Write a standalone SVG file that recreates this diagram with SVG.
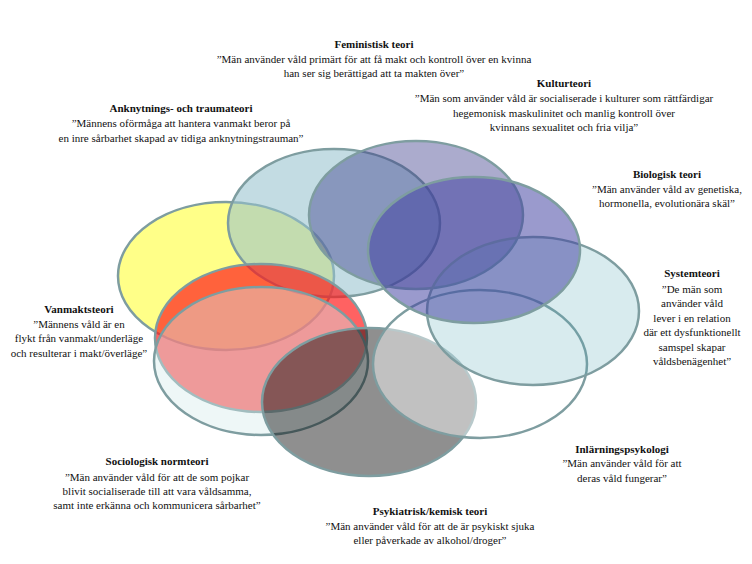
<svg xmlns="http://www.w3.org/2000/svg" width="752" height="564" viewBox="0 0 752 564">
<style>
  .e { stroke: #7e9da0; stroke-width: 2.5; }
  text { font-family: "Liberation Serif", "DejaVu Serif", serif; font-size: 11px; fill: #111; text-anchor: middle; }
  .t { font-weight: bold; }
</style>
<rect width="752" height="564" fill="#ffffff"/>
<g id="anknytning">
  <ellipse class="e" cx="226" cy="276" rx="108" ry="74" fill="#ffff88"/>
  <text x="181" y="112" class="t">Anknytnings- och traumateori</text>
  <text x="181" y="127">”Männens oförmåga att hantera vanmakt beror på</text>
  <text x="181" y="142">en inre sårbarhet skapad av tidiga anknytningstrauman”</text>
</g>
<g id="feministisk">
  <ellipse class="e" cx="334" cy="223" rx="106" ry="74" fill="#95c1ce" fill-opacity="0.57"/>
  <text x="374" y="48" class="t">Feministisk teori</text>
  <text x="374" y="63">”Män använder våld primärt för att få makt och kontroll över en kvinna</text>
  <text x="374" y="77">han ser sig berättigad att ta makten över”</text>
</g>
<g id="kultur">
  <ellipse class="e" cx="416" cy="215" rx="107" ry="74" fill="#373789" fill-opacity="0.42"/>
  <text x="564" y="87" class="t">Kulturteori</text>
  <text x="564" y="102">”Män som använder våld är socialiserade i kulturer som rättfärdigar</text>
  <text x="564" y="117">hegemonisk maskulinitet och manlig kontroll över</text>
  <text x="564" y="131">kvinnans sexualitet och fria vilja”</text>
</g>
<g id="vanmakt">
  <ellipse class="e" cx="261" cy="338" rx="106" ry="74" fill="#ff1818" fill-opacity="0.68"/>
  <text x="79" y="313" class="t">Vanmaktsteori</text>
  <text x="79" y="328">”Männens våld är en</text>
  <text x="79" y="342">flykt från vanmakt/underläge</text>
  <text x="79" y="357">och resulterar i makt/överläge”</text>
</g>
<g id="sociologisk">
  <ellipse class="e" cx="261" cy="361" rx="107" ry="74" fill="#d6ecec" fill-opacity="0.41"/>
  <text x="157" y="465" class="t">Sociologisk normteori</text>
  <text x="157" y="481">”Män använder våld för att de som pojkar</text>
  <text x="157" y="495">blivit socialiserade till att vara våldsamma,</text>
  <text x="157" y="509">samt inte erkänna och kommunicera sårbarhet”</text>
</g>
<g id="psykiatrisk">
  <ellipse class="e" cx="369" cy="402" rx="107" ry="74" fill="#000000" fill-opacity="0.44"/>
  <text x="430" y="515" class="t">Psykiatrisk/kemisk teori</text>
  <text x="430" y="530">”Män använder våld för att de är psykiskt sjuka</text>
  <text x="430" y="544">eller påverkade av alkohol/droger”</text>
</g>
<g id="inlarning">
  <ellipse class="e" cx="480" cy="364" rx="107" ry="74" fill="#ffffff" fill-opacity="0.45"/>
  <text x="622" y="453" class="t">Inlärningspsykologi</text>
  <text x="622" y="467">”Män använder våld för att</text>
  <text x="622" y="482">deras våld fungerar”</text>
</g>
<g id="system">
  <ellipse class="e" cx="533" cy="311" rx="106" ry="74" fill="#57aab6" fill-opacity="0.23"/>
  <text x="692" y="277" class="t">Systemteori</text>
  <text x="692" y="293">”De män som</text>
  <text x="692" y="307">använder våld</text>
  <text x="692" y="322">lever i en relation</text>
  <text x="692" y="336">där ett dysfunktionellt</text>
  <text x="692" y="351">samspel skapar</text>
  <text x="692" y="365">våldsbenägenhet”</text>
</g>
<g id="biologisk">
  <ellipse class="e" cx="474" cy="250" rx="106" ry="73" fill="#4040a0" fill-opacity="0.53"/>
  <text x="667" y="178" class="t">Biologisk teori</text>
  <text x="667" y="193">”Män använder våld av genetiska,</text>
  <text x="667" y="207">hormonella, evolutionära skäl”</text>
</g>
</svg>
